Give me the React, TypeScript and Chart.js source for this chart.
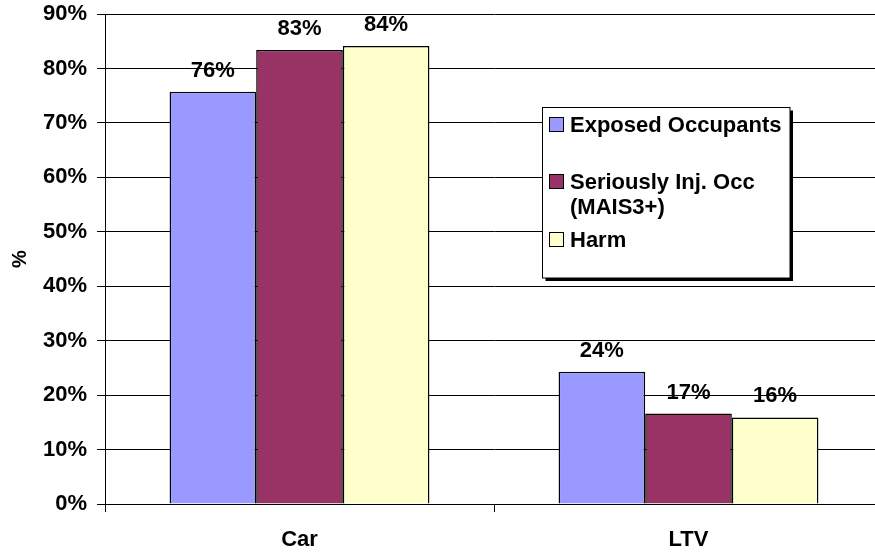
import React, { useEffect, useRef } from "react";
import { Chart, registerables } from "chart.js";

Chart.register(...registerables);

const categories = ["Car", "LTV"];
const seriesNames = ["Exposed Occupants", "Seriously Inj. Occ (MAIS3+)", "Harm"];
const exposed = [75.7, 24.3];
const seriously = [83.4, 16.6];
const harm = [84.1, 15.9];
const yTicks = [0, 10, 20, 30, 40, 50, 60, 70, 80, 90];
const colors = ["#9999FF", "#993366", "#FFFFCC"];

const FONT = '"Liberation Sans", Arial, sans-serif';

const valueLabels = {
  id: "valueLabels",
  afterDatasetsDraw(chart: any) {
    const ctx = chart.ctx;
    ctx.save();
    ctx.font = `bold 22px ${FONT}`;
    ctx.fillStyle = "#000";
    ctx.textAlign = "center";
    ctx.textBaseline = "middle";
    chart.data.datasets.forEach((ds: any, i: number) => {
      const meta = chart.getDatasetMeta(i);
      meta.data.forEach((el: any, j: number) => {
        ctx.fillText(`${Math.round(ds.data[j])}%`, el.x, el.y - 21);
      });
    });
    ctx.restore();
  },
};

const boxLegend = {
  id: "boxLegend",
  afterDraw(chart: any) {
    const ctx = chart.ctx;
    const bx = 542.5, by = 107.5, bw = 247.5, bh = 170.5;
    ctx.save();
    ctx.fillStyle = "#000";
    ctx.fillRect(bx + 3, by + 3, bw, bh);
    ctx.fillStyle = "#fff";
    ctx.fillRect(bx, by, bw, bh);
    ctx.strokeStyle = "#000";
    ctx.lineWidth = 1;
    ctx.strokeRect(bx, by, bw, bh);
    ctx.font = `bold 22px ${FONT}`;
    ctx.textAlign = "left";
    ctx.textBaseline = "middle";
    const items = [
      { lines: ["Exposed Occupants"], y: 125 },
      { lines: ["Seriously Inj. Occ", "(MAIS3+)"], y: 182 },
      { lines: ["Harm"], y: 240 },
    ];
    items.forEach((it, i) => {
      ctx.fillStyle = colors[i];
      ctx.fillRect(549.5, it.y - 7.5, 14, 14);
      ctx.strokeStyle = "#000";
      ctx.strokeRect(549.5, it.y - 7.5, 14, 14);
      ctx.fillStyle = "#000";
      it.lines.forEach((ln, k) => ctx.fillText(ln, 570, it.y + 1 + k * 25));
    });
    ctx.restore();
  },
};

export default function App() {
  const ref = useRef<HTMLCanvasElement>(null);
  useEffect(() => {
    if (!ref.current) return;
    const chart = new Chart(ref.current, {
      type: "bar",
      data: {
        labels: categories,
        datasets: [exposed, seriously, harm].map((d, i) => ({
          label: seriesNames[i],
          data: d,
          backgroundColor: colors[i],
          borderColor: "#000",
          borderWidth: 1.5,
          categoryPercentage: 0.668,
          barPercentage: 1,
        })),
      },
      options: {
        responsive: false,
        animation: false,
        layout: { padding: { left: 0, top: 14, right: 0, bottom: 0 } },
        plugins: { legend: { display: false }, tooltip: { enabled: false } },
        scales: {
          x: {
            grid: { drawOnChartArea: false, color: "#000", tickLength: 8, offset: true },
            border: { color: "#000", width: 1 },
            ticks: { color: "#000", font: { family: FONT, size: 22, weight: "bold" }, padding: 15 },
            afterFit: (s: any) => { s.height = 48; s.paddingLeft = 0; s.paddingRight = 0; },
          },
          y: {
            min: 0,
            max: 90,
            afterBuildTicks: (s: any) => { s.ticks = yTicks.map((v) => ({ value: v })); },
            grid: { color: "#000", tickLength: 8 },
            border: { color: "#000", width: 1 },
            ticks: {
              color: "#000",
              padding: 10,
              font: { family: FONT, size: 22, weight: "bold" },
              callback: (v: any) => `${v}%`,
            },
            title: {
              display: true,
              text: "%",
              color: "#000",
              font: { family: FONT, size: 20, weight: "bold" },
              padding: { top: 8, bottom: 0 },
            },
            afterFit: (s: any) => { s.width = 105; s.paddingTop = 0; s.paddingBottom = 0; },
          },
        },
      },
      plugins: [valueLabels, boxLegend],
    });
    return () => chart.destroy();
  }, []);
  return (
    <div style={{ position: "absolute", left: 0, top: 0, width: 875, height: 552, overflow: "hidden", background: "#fff" }}>
      <canvas ref={ref} width={883} height={552} />
    </div>
  );
}
